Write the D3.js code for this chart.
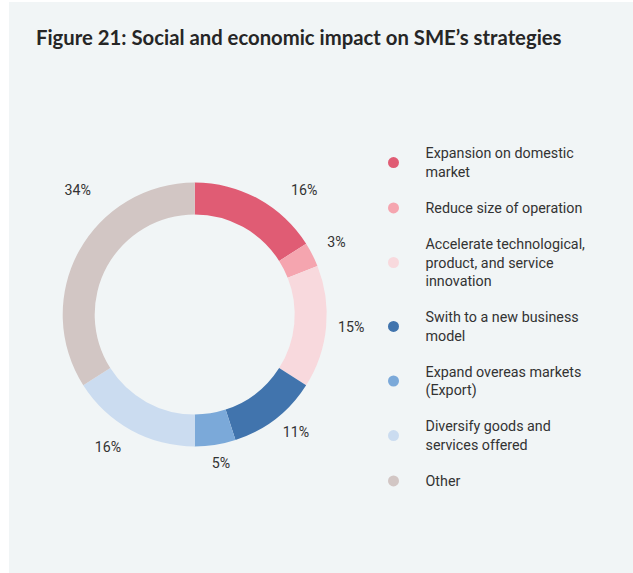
<!DOCTYPE html>
<html>
<head>
<meta charset="utf-8">
<script src="https://cdn.jsdelivr.net/npm/d3@7"></script>
<style>
  html, body { margin: 0; padding: 0; background: #ffffff; }
  svg { display: block; }
</style>
</head>
<body>
<svg id="chart" width="633" height="573"></svg>
<script>
// Survey shares of SME strategy responses (percent)
const categories = [
  "Expansion on domestic market",
  "Reduce size of operation",
  "Accelerate technological, product, and service innovation",
  "Swith to a new business model",
  "Expand overeas markets (Export)",
  "Diversify goods and services offered",
  "Other"
];
const legendLines = [
  ["Expansion on domestic", "market"],
  ["Reduce size of operation"],
  ["Accelerate technological,", "product, and service", "innovation"],
  ["Swith to a new business", "model"],
  ["Expand overeas markets", "(Export)"],
  ["Diversify goods and", "services offered"],
  ["Other"]
];
const shares = [16, 3, 15, 11, 5, 16, 34];
const sliceColors = ["#e05c74", "#f5a5af", "#f8d9dd", "#4174ad", "#7ba9d9", "#cbdcf0", "#d2c6c4"];
const titleText = "Figure 21: Social and economic impact on SME\u2019s strategies";

const svg = d3.select("#chart");
const W = 633, H = 573;

// panel background
svg.append("rect")
  .attr("x", 9).attr("y", 2)
  .attr("width", W - 9).attr("height", H - 2)
  .attr("fill", "#f1f5f6");

// title, fitted to its measured span
const title = svg.append("text")
  .attr("x", 36).attr("y", 45)
  .attr("fill", "#262626")
  .style("font-family", "Lato, 'Noto Sans', sans-serif")
  .style("font-weight", 700)
  .style("font-size", "20px")
  .text(titleText);
const tw = title.node().getComputedTextLength();
title.style("font-size", (20 * 526 / tw).toFixed(2) + "px");

// donut
const cx = 194.7, cy = 314.5, rOuter = 132, rInner = 100;
const pie = d3.pie().sort(null).value(d => d);
const arcs = pie(shares);
const arc = d3.arc().innerRadius(rInner).outerRadius(rOuter);

const g = svg.append("g").attr("transform", `translate(${cx},${cy})`);
g.selectAll("path.slice")
  .data(arcs)
  .join("path")
  .attr("class", "slice")
  .attr("d", arc)
  .attr("fill", (d, i) => sliceColors[i]);

// percentage labels: set around the ring, nudged clear of neighbours
const labelNudgeDeg = [12.5, 0, -1, -3, -1, 4.5, 18];
const labelRadius = [166, 159, 157, 155, 151, 158, 171];
g.selectAll("text.pct")
  .data(arcs)
  .join("text")
  .attr("class", "pct")
  .attr("transform", (d, i) => {
    const a = (d.startAngle + d.endAngle) / 2 + labelNudgeDeg[i] * Math.PI / 180;
    const r = labelRadius[i];
    return `translate(${r * Math.sin(a)},${-r * Math.cos(a)})`;
  })
  .attr("text-anchor", "middle")
  .attr("dy", "0.35em")
  .attr("fill", "#333333")
  .style("font-family", "Roboto, sans-serif")
  .style("font-size", "14.2px")
  .text(d => d.data + "%");

// legend
const lineH = 18.6, blockGap = 17.4;
const legend = svg.append("g");
let yLine = 153.3;
legendLines.forEach((lines, i) => {
  const top = yLine;
  const bottom = yLine + (lines.length - 1) * lineH;
  legend.append("circle")
    .attr("cx", 393.5)
    .attr("cy", (top + bottom) / 2)
    .attr("r", 5.5)
    .attr("fill", sliceColors[i]);
  const t = legend.append("text")
    .attr("fill", "#333333")
    .style("font-family", "Roboto, sans-serif")
    .style("font-size", "14.3px");
  lines.forEach((ln, j) => {
    t.append("tspan")
      .attr("x", 425.5)
      .attr("y", top + j * lineH)
      .attr("dy", "0.35em")
      .text(ln);
  });
  yLine = bottom + lineH + blockGap;
});
</script>
</body>
</html>
